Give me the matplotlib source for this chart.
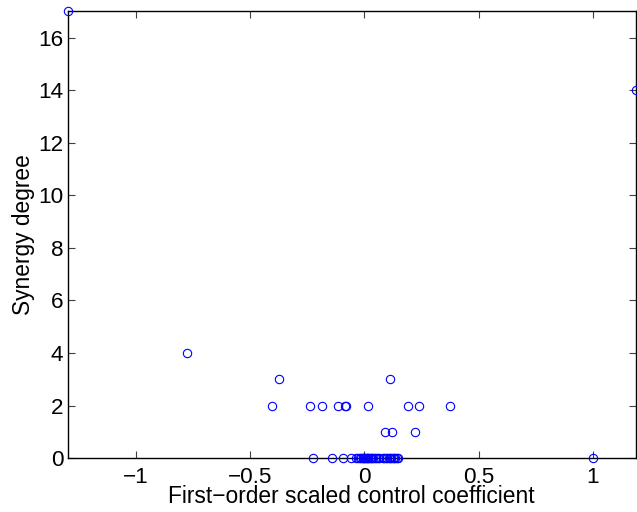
import numpy as np
import matplotlib
matplotlib.use("Agg")
import matplotlib.pyplot as plt

plt.rcParams["font.family"] = ["Liberation Sans", "DejaVu Sans"]

# ─────────────────────────────────────────────
# DATOS
# ─────────────────────────────────────────────
coef_x = [
    -1.30, 1.19, -0.775,
    -0.372, 0.114,
    -0.404, -0.240, -0.185, -0.115, -0.085, -0.080, 0.018, 0.192, 0.240, 0.375,
    0.091, 0.123, 0.224,
    -0.227, 1.00, -0.142, -0.093, -0.058, -0.037, -0.028, -0.020, -0.014,
    -0.008, -0.004, 0.000, 0.003, 0.006, 0.010, 0.014, 0.018, 0.023,
    0.028, 0.034, 0.040, 0.046, 0.052, 0.058, 0.064,
    0.082, 0.088, 0.094, 0.100, 0.106, 0.112, 0.118, 0.124, 0.130,
    0.136, 0.142, 0.148,
]
grado_sinergia = [
    17, 14, 4,
    3, 3,
    2, 2, 2, 2, 2, 2, 2, 2, 2, 2,
    1, 1, 1,
    0, 0, 0, 0, 0, 0, 0, 0, 0,
    0, 0, 0, 0, 0, 0, 0, 0, 0,
    0, 0, 0, 0, 0, 0, 0,
    0, 0, 0, 0, 0, 0, 0, 0, 0,
    0, 0, 0,
]

x_ticks = [-1, -0.5, 0, 0.5, 1]
x_tick_labels = ["\u22121", "\u22120.5", "0", "0.5", "1"]
y_ticks = [0, 2, 4, 6, 8, 10, 12, 14, 16]

fig = plt.figure(figsize=(6.37, 5.12), dpi=100)
ax = fig.add_axes([0.106, 0.105, 0.8925, 0.873])

ax.plot(coef_x, grado_sinergia, linestyle="none", marker="o",
        markersize=6, markerfacecolor="none", markeredgecolor="#0000ff",
        markeredgewidth=0.8, clip_on=False, zorder=3)

ax.set_xlim(min(coef_x), max(coef_x))
ax.set_ylim(0, 17)
ax.set_xticks(x_ticks)
ax.set_xticklabels(x_tick_labels)
ax.set_yticks(y_ticks)

ax.tick_params(direction="in", length=5, width=0.8, color="#404040",
               top=True, right=True, labelsize=16.2)
ax.tick_params(axis="x", pad=6)
ax.tick_params(axis="y", pad=3)
for s in ax.spines.values():
    s.set_linewidth(1.0)
    s.set_color("black")

ax.set_xlabel("First\u2212order scaled control coefficient", fontsize=16.4,
              labelpad=-1.5)
ax.set_ylabel("Synergy degree", fontsize=16.4, labelpad=2)

fig.savefig("out.png", dpi=100, facecolor="white")
